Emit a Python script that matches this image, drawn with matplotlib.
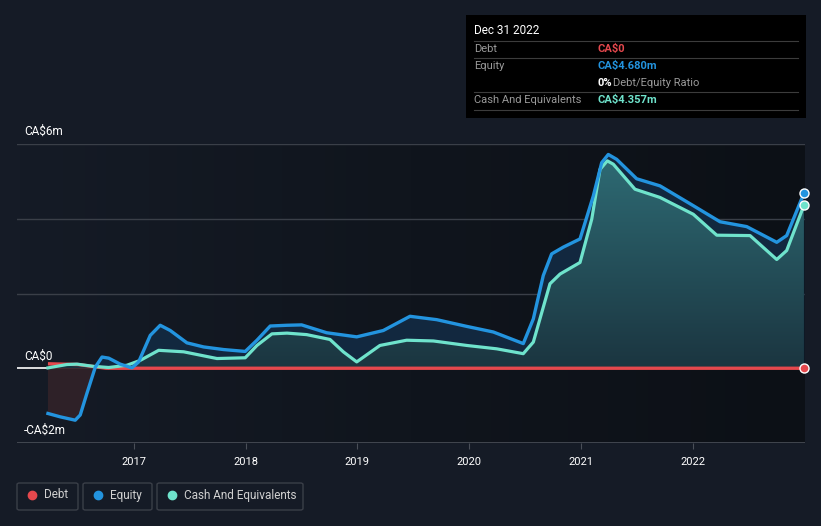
import numpy as np
import matplotlib.pyplot as plt
from matplotlib.patches import Rectangle, FancyBboxPatch
from matplotlib.colors import LinearSegmentedColormap

plt.rcParams['font.family'] = ['Roboto', 'DejaVu Sans']

# values in CA$ millions, time in decimal years
eq_t = [2016.230, 2016.340, 2016.474, 2016.519, 2016.579, 2016.654, 2016.714, 2016.774,
        2016.877, 2016.982, 2017.042, 2017.146, 2017.235, 2017.325, 2017.474, 2017.624,
        2017.803, 2017.996, 2018.101, 2018.220, 2018.370, 2018.501, 2018.725, 2018.994,
        2019.232, 2019.471, 2019.710, 2019.979, 2020.217, 2020.485, 2020.575, 2020.664,
        2020.739, 2020.843, 2020.993, 2021.112, 2021.187, 2021.246, 2021.321, 2021.500,
        2021.709, 2022.007, 2022.246, 2022.485, 2022.754, 2022.843, 2022.997]
equity = [-1.21, -1.30, -1.39, -1.25, -0.67, 0.03, 0.30, 0.27,
          0.11, 0.01, 0.17, 0.88, 1.15, 1.01, 0.68, 0.57,
          0.50, 0.45, 0.75, 1.13, 1.15, 1.16, 0.95, 0.84,
          1.01, 1.39, 1.30, 1.12, 0.97, 0.66, 1.32, 2.48,
          3.06, 3.24, 3.46, 4.61, 5.50, 5.72, 5.59, 5.07,
          4.88, 4.35, 3.92, 3.79, 3.37, 3.55, 4.68]

cash_t = [2016.230, 2016.400, 2016.490, 2016.639, 2016.774, 2016.937, 2017.056, 2017.221,
          2017.445, 2017.743, 2017.996, 2018.101, 2018.235, 2018.370, 2018.546, 2018.755,
          2018.874, 2018.994, 2019.202, 2019.441, 2019.680, 2019.979, 2020.247, 2020.485,
          2020.575, 2020.724, 2020.814, 2020.993, 2021.098, 2021.172, 2021.237, 2021.291,
          2021.485, 2021.709, 2022.007, 2022.217, 2022.515, 2022.754, 2022.843, 2022.997]
cash = [0.01, 0.10, 0.11, 0.05, 0.02, 0.08, 0.21, 0.48,
        0.44, 0.26, 0.28, 0.61, 0.92, 0.94, 0.90, 0.77,
        0.44, 0.17, 0.61, 0.75, 0.73, 0.61, 0.52, 0.39,
        0.70, 2.26, 2.52, 2.83, 3.99, 5.32, 5.55, 5.46,
        4.79, 4.57, 4.12, 3.56, 3.55, 2.91, 3.15, 4.357]

debt_t = [2016.230, 2016.500, 2016.750, 2022.997]
debt = [0.12, 0.10, 0.0, 0.0]

years = [2017, 2018, 2019, 2020, 2021, 2022]
ytick_vals = [6, 0, -2]
ytick_text = ['CA$6m', 'CA$0', '-CA$2m']

BG = '#151b26'
BLUE = '#2394df'
TEAL = '#6fe3cc'
RED = '#e5484d'
W, H = 821, 526

fig = plt.figure(figsize=(8.21, 5.26), dpi=100, facecolor=BG)
x0, x1 = 2015.953, 2023.007
ax = fig.add_axes([17 / W, 1 - 443 / H, (805 - 17) / W, (443 - 144) / H])
ax.set_xlim(x0, x1)
ax.set_ylim(-2, 6)
ax.set_facecolor(BG)
for s in ax.spines.values():
    s.set_visible(False)

# horizontal background gradient
bgcmap = LinearSegmentedColormap.from_list('bg', [BG, '#10151d', '#0c1016'])
ax.imshow(np.linspace(0, 1, 256).reshape(1, -1), extent=[x0, x1, -2, 6.0],
          aspect='auto', cmap=bgcmap, zorder=0)

# grid
for g in [6, 4, 2]:
    ax.axhline(g, color='#3a3f48', lw=1, zorder=1)
ax.axhline(-2, color='#4a4f58', lw=1.2, zorder=1)
ax.axhline(0, color='white', lw=1.2, zorder=1)

eq = np.array(equity)
# negative equity area (dark red)
ax.fill_between(eq_t, 0, eq, where=eq < 0.05, interpolate=True, color='#2e2128', lw=0, zorder=2)
ax.fill_between(debt_t, 0, debt, color='#3a2028', lw=0, zorder=2)
# positive equity area
ax.fill_between(eq_t, 0, eq, where=eq > 0, interpolate=True, color='#12283f', lw=0, zorder=2)

# cash area with vertical gradient
poly = ax.fill_between(cash_t, 0, cash, color='none', lw=0, zorder=3)
cmap = LinearSegmentedColormap.from_list('cash', ['#1b3540', '#2f6e77'])
im = ax.imshow(np.linspace(0, 1, 256).reshape(-1, 1), extent=[x0, x1, 0, 6],
               origin='lower', aspect='auto', cmap=cmap, zorder=3)
im.set_clip_path(poly.get_paths()[0], transform=ax.transData)

ax.plot(debt_t, debt, color=RED, lw=2.4, zorder=4, solid_capstyle='butt')
ax.plot(cash_t, cash, color=TEAL, lw=2.3, zorder=5, solid_joinstyle='round')
ax.plot(eq_t, equity, color=BLUE, lw=2.4, zorder=6, solid_joinstyle='round')

for yv, c in [(debt[-1], RED), (cash[-1], TEAL), (equity[-1], BLUE)]:
    ax.plot(debt_t[-1], yv, 'o', ms=6.5, mfc=c, mec='white', mew=1, zorder=7, clip_on=False)

# x ticks
ax.set_xticks(years)
ax.set_xticklabels([str(y) for y in years], color='white', fontsize=8)
ax.tick_params(axis='x', length=4, color='#4a4f58', pad=6)
ax.set_yticks([])

for v, s in zip(ytick_vals, ytick_text):
    fig.text(24 / W, 1 - (368 - v * 37.4 - 12) / H, s, color='white', fontsize=8.5, va='center')


def fx(x):
    return x / W


def fy(y):
    return 1 - y / H


# tooltip box
fig.patches.append(Rectangle((fx(466), fy(118)), 340 / W, 103 / H, transform=fig.transFigure,
                             facecolor='black', edgecolor='none', zorder=10))
fig.text(fx(474), fy(30), 'Dec 31 2022', color='white', fontsize=8.5, va='center', zorder=11)
for yl in [41, 58, 92, 110]:
    fig.add_artist(plt.Line2D([fx(474), fx(798)], [fy(yl), fy(yl)], color='#3c3c3c', lw=0.8,
                              transform=fig.transFigure, zorder=11))
rows = [(49, 'Debt', 'CA$0', RED), (66, 'Equity', 'CA$4.680m', BLUE),
        (100, 'Cash And Equivalents', 'CA$4.357m', TEAL)]
for yy, lab, val, c in rows:
    fig.text(fx(474), fy(yy), lab, color='#9a9a9a', fontsize=8, va='center', zorder=11)
    fig.text(fx(597), fy(yy), val, color=c, fontsize=8, va='center', fontweight='bold', zorder=11)
fig.text(fx(597), fy(83), '0%', color='white', fontsize=8, va='center', fontweight='bold', zorder=11)
fig.text(fx(613), fy(83), 'Debt/Equity Ratio', color='#9a9a9a', fontsize=8, va='center', zorder=11)

# legend
legend = [(17, 78, 'Debt', RED), (83, 152, 'Equity', BLUE), (157, 303, 'Cash And Equivalents', TEAL)]
for xa, xb, lab, c in legend:
    fig.patches.append(FancyBboxPatch((fx(xa), fy(510)), (xb - xa) / W, 27 / H,
                                      boxstyle='round,pad=0,rounding_size=0.003',
                                      transform=fig.transFigure, facecolor='none',
                                      edgecolor='#3a3f48', lw=1))
    fig.add_artist(plt.Line2D([fx(xa + 15)], [fy(495)], marker='o', ms=6, color=c, lw=0,
                              transform=fig.transFigure))
    fig.text(fx(xa + 27), fy(495), lab, color='#d0d0d0', fontsize=8.5, va='center')

fig.savefig('out.png', dpi=100, facecolor=BG)
